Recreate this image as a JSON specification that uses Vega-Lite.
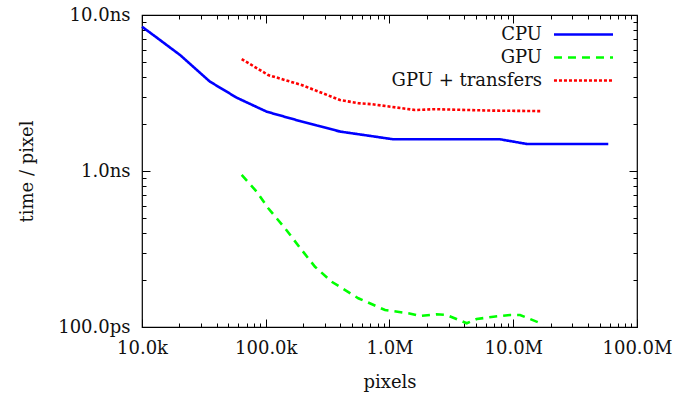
{
  "$schema": "https://vega.github.io/schema/vega-lite/v6.json",
  "width": 495,
  "height": 312,
  "autosize": "none",
  "padding": {"left": 142, "top": 15, "right": 50, "bottom": 72},
  "background": "white",
  "config": {
    "font": "DejaVu Serif",
    "view": {"stroke": "#000000", "strokeWidth": 1.2},
    "axis": {"labelFont": "DejaVu Serif", "titleFont": "DejaVu Serif", "labelFontSize": 18, "titleFontSize": 18, "titleFontWeight": "normal", "labelColor": "#111111", "titleColor": "#111111", "grid": false, "domain": false, "tickColor": "#000000", "tickWidth": 1, "labelFlush": false, "labelOverlap": false, "labelBound": false}
  },
  "datasets": {
    "main": [
      {"series": "CPU", "pixels": 10000, "time": 8.41},
      {"series": "CPU", "pixels": 12340, "time": 7.44},
      {"series": "CPU", "pixels": 20300, "time": 5.54},
      {"series": "CPU", "pixels": 35400, "time": 3.74},
      {"series": "CPU", "pixels": 58300, "time": 2.95},
      {"series": "CPU", "pixels": 101800, "time": 2.40},
      {"series": "CPU", "pixels": 189000, "time": 2.09},
      {"series": "CPU", "pixels": 398000, "time": 1.79},
      {"series": "CPU", "pixels": 1073000, "time": 1.597},
      {"series": "CPU", "pixels": 7820000, "time": 1.597},
      {"series": "CPU", "pixels": 12900000, "time": 1.49},
      {"series": "CPU", "pixels": 58600000, "time": 1.49},
      {"series": "GPU", "pixels": 63900, "time": 0.943},
      {"series": "GPU", "pixels": 84500, "time": 0.737},
      {"series": "GPU", "pixels": 104800, "time": 0.577},
      {"series": "GPU", "pixels": 143000, "time": 0.430},
      {"series": "GPU", "pixels": 195000, "time": 0.312},
      {"series": "GPU", "pixels": 250000, "time": 0.2434},
      {"series": "GPU", "pixels": 341000, "time": 0.195},
      {"series": "GPU", "pixels": 560000, "time": 0.1528},
      {"series": "GPU", "pixels": 920000, "time": 0.1285},
      {"series": "GPU", "pixels": 1420000, "time": 0.1225},
      {"series": "GPU", "pixels": 1760000, "time": 0.1176},
      {"series": "GPU", "pixels": 2400000, "time": 0.1206},
      {"series": "GPU", "pixels": 2900000, "time": 0.1194},
      {"series": "GPU", "pixels": 4210000, "time": 0.1057},
      {"series": "GPU", "pixels": 5070000, "time": 0.1125},
      {"series": "GPU", "pixels": 6910000, "time": 0.1164},
      {"series": "GPU", "pixels": 9420000, "time": 0.1194},
      {"series": "GPU", "pixels": 11350000, "time": 0.1194},
      {"series": "GPU", "pixels": 17500000, "time": 0.104},
      {"series": "GPU + transfers", "pixels": 63900, "time": 5.22},
      {"series": "GPU + transfers", "pixels": 104800, "time": 4.12},
      {"series": "GPU + transfers", "pixels": 195000, "time": 3.56},
      {"series": "GPU + transfers", "pixels": 398000, "time": 2.85},
      {"series": "GPU + transfers", "pixels": 560000, "time": 2.72},
      {"series": "GPU + transfers", "pixels": 718000, "time": 2.68},
      {"series": "GPU + transfers", "pixels": 1610000, "time": 2.46},
      {"series": "GPU + transfers", "pixels": 2330000, "time": 2.49},
      {"series": "GPU + transfers", "pixels": 6490000, "time": 2.44},
      {"series": "GPU + transfers", "pixels": 17000000, "time": 2.42}
    ]
  },
  "data": {"name": "main"},
  "layer": [
    {
      "mark": {"type": "point", "opacity": 0},
      "encoding": {
        "x": {"field": "pixels", "type": "quantitative", "scale": {"type": "log", "domain": [10000, 100000000], "nice": false},
          "axis": {"orient": "bottom", "title": null, "labels": false, "tickSize": -4, "values": [20000,30000,40000,50000,60000,70000,80000,90000,200000,300000,400000,500000,600000,700000,800000,900000,2000000,3000000,4000000,5000000,6000000,7000000,8000000,9000000,20000000,30000000,40000000,50000000,60000000,70000000,80000000,90000000]}},
        "y": {"field": "time", "type": "quantitative", "scale": {"type": "log", "domain": [0.1, 10], "nice": false},
          "axis": {"orient": "left", "title": null, "labels": false, "tickSize": -4, "values": [0.2,0.3,0.4,0.5,0.6,0.7,0.8,0.9,2,3,4,5,6,7,8,9]}}
      }
    },
    {
      "mark": {"type": "point", "opacity": 0},
      "encoding": {
        "x": {"field": "pixels", "type": "quantitative",
          "axis": {"orient": "top", "title": null, "labels": false, "tickSize": -4, "values": [20000,30000,40000,50000,60000,70000,80000,90000,200000,300000,400000,500000,600000,700000,800000,900000,2000000,3000000,4000000,5000000,6000000,7000000,8000000,9000000,20000000,30000000,40000000,50000000,60000000,70000000,80000000,90000000]}},
        "y": {"field": "time", "type": "quantitative",
          "axis": {"orient": "right", "title": null, "labels": false, "tickSize": -4, "values": [0.2,0.3,0.4,0.5,0.6,0.7,0.8,0.9,2,3,4,5,6,7,8,9]}}
      }
    },
    {
      "mark": {"type": "point", "opacity": 0},
      "encoding": {
        "x": {"field": "pixels", "type": "quantitative",
          "axis": {"orient": "top", "title": null, "labels": false, "tickSize": -8, "values": [10000,100000,1000000,10000000,100000000]}},
        "y": {"field": "time", "type": "quantitative",
          "axis": {"orient": "right", "title": null, "labels": false, "tickSize": -8, "values": [0.1,1,10]}}
      }
    },
    {
      "mark": {"type": "point", "opacity": 0},
      "encoding": {
        "x": {"field": "pixels", "type": "quantitative",
          "axis": {"orient": "bottom", "title": null, "labels": false, "tickSize": -8, "values": [10000,100000,1000000,10000000,100000000]}},
        "y": {"field": "time", "type": "quantitative",
          "axis": {"orient": "left", "title": null, "labels": false, "tickSize": -8, "values": [0.1,1,10]}}
      }
    },
    {
      "mark": {"type": "line", "strokeWidth": 2.6},
      "encoding": {
        "x": {"field": "pixels", "type": "quantitative",
          "axis": {"orient": "bottom", "title": "pixels", "ticks": false, "labelPadding": 12, "titlePadding": 16, "values": [10000,100000,1000000,10000000,100000000], "labelExpr": "datum.value >= 1000000 ? format(datum.value / 1000000, '.1f') + 'M' : format(datum.value / 1000, '.1f') + 'k'"}},
        "y": {"field": "time", "type": "quantitative",
          "axis": {"orient": "left", "title": "time / pixel", "ticks": false, "labelPadding": 12, "titlePadding": 21, "values": [0.1,1,10], "labelExpr": "datum.value >= 1 ? format(datum.value, '.1f') + 'ns' : format(datum.value * 1000, '.1f') + 'ps'"}},
        "color": {"field": "series", "type": "nominal",
          "scale": {"domain": ["CPU", "GPU", "GPU + transfers"], "range": ["#0000ff", "#00ff00", "#ff0000"]},
          "legend": {"title": null, "orient": "none", "legendX": 431, "legendY": 9, "symbolType": "M-3.28,0L3.28,0", "symbolSize": 324, "symbolStrokeWidth": 2.6, "labelAlign": "right", "labelOffset": -52, "labelFont": "DejaVu Serif", "labelFontSize": 18, "labelColor": "#111111", "rowPadding": 3, "padding": 0}},
        "strokeDash": {"field": "series", "type": "nominal",
          "scale": {"domain": ["CPU", "GPU", "GPU + transfers"], "range": [[1, 0], [8, 6], [3, 2]]},
          "legend": {"title": null, "orient": "none", "legendX": 431, "legendY": 9, "symbolType": "M-3.28,0L3.28,0", "symbolSize": 324, "symbolStrokeWidth": 2.6, "labelAlign": "right", "labelOffset": -52, "labelFont": "DejaVu Serif", "labelFontSize": 18, "labelColor": "#111111", "rowPadding": 3, "padding": 0}}
      }
    }
  ]
}
